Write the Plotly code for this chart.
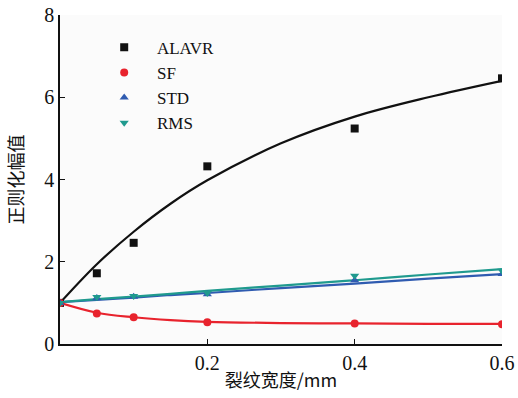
import plotly.graph_objects as go

# Measured points
x_pts = [0.0, 0.05, 0.1, 0.2, 0.4, 0.6]
alavr = [1.0, 1.72, 2.46, 4.32, 5.24, 6.46]
sf = [1.0, 0.74, 0.65, 0.53, 0.50, 0.48]
std = [1.0, 1.12, 1.15, 1.21, 1.55, 1.70]
rms = [1.0, 1.14, 1.17, 1.24, 1.66, 1.78]

# Fitted curves
x_fit = [0.0, 0.05, 0.1, 0.15, 0.2, 0.3, 0.4, 0.5, 0.6]
alavr_fit = [1.0, 1.94, 2.73, 3.41, 3.98, 4.88, 5.53, 6.00, 6.40]
sf_fit = [1.0, 0.76, 0.65, 0.58, 0.54, 0.51, 0.50, 0.49, 0.49]
std_fit = [1.02, 1.07, 1.13, 1.19, 1.24, 1.36, 1.47, 1.59, 1.70]
rms_fit = [1.02, 1.09, 1.15, 1.22, 1.29, 1.42, 1.55, 1.69, 1.82]

names = ["ALAVR", "SF", "STD", "RMS"]
colors = ["#111111", "#e8232d", "#2f5bb0", "#1f9a8e"]
symbols = ["square", "circle", "triangle-up", "triangle-down"]
pts = [alavr, sf, std, rms]
fits = [alavr_fit, sf_fit, std_fit, rms_fit]

x_ticks = [0.2, 0.4, 0.6]
y_ticks = [0, 2, 4, 6, 8]

fig = go.Figure()
for n, c, s, p, f in zip(names, colors, symbols, pts, fits):
    fig.add_trace(go.Scatter(x=x_fit, y=f, mode="lines", line=dict(color=c, width=2.2, shape="spline"),
                             showlegend=False, hoverinfo="skip"))
for n, c, s, p, f in zip(names, colors, symbols, pts, fits):
    fig.add_trace(go.Scatter(x=x_pts, y=p, mode="markers", name="\u00a0\u00a0\u00a0" + n,
                             marker=dict(color=c, symbol=s, size=8)))

serif = "Times New Roman"
cjk = "Noto Sans CJK SC"
fig.update_layout(
    width=518, height=398,
    margin=dict(l=60, r=16, t=15, b=54),
    paper_bgcolor="white", plot_bgcolor="#fbfbfb",
    font=dict(family=serif, size=20, color="#111111"),
    showlegend=True,
    legend=dict(x=0.10, y=0.955, xanchor="left", yanchor="top", bgcolor="rgba(0,0,0,0)",
                font=dict(family=serif, size=17), tracegroupgap=0),
    xaxis=dict(range=[0, 0.6], tickvals=x_ticks, ticktext=["0.2", "0.4", "0.6"], automargin=False,
               tickfont=dict(family=serif, size=20),
               showgrid=False, zeroline=False, showline=True, linecolor="#111111", linewidth=1.5,
               ticks="inside", ticklen=5, tickcolor="#111111",
               title=dict(text="裂纹宽度/mm", font=dict(family=cjk, size=18), standoff=2)),
    yaxis=dict(range=[0, 8], tickvals=y_ticks, showgrid=False, zeroline=False, showline=True, automargin=False,
               tickfont=dict(family=serif, size=20),
               linecolor="#111111", linewidth=1.5, ticks="inside", ticklen=5, tickcolor="#111111",
               title=dict(text="正则化幅值", font=dict(family=cjk, size=18), standoff=16)),
)
fig.write_html("out.html", config={"displayModeBar": False},
               post_script="document.body.style.margin='0px';")
